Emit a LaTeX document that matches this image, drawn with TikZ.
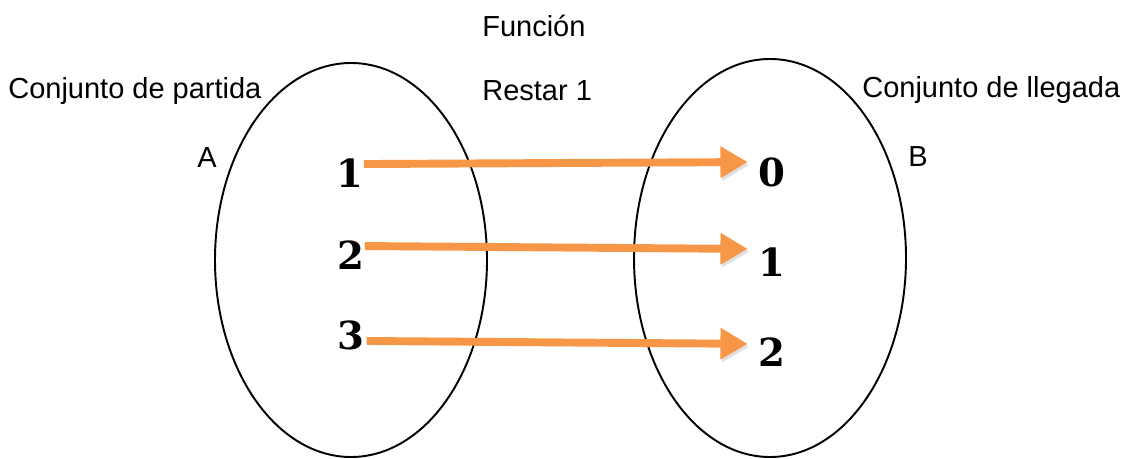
\documentclass[tikz,border=0pt]{standalone}
\usepackage{fontspec}
\usetikzlibrary{arrows.meta}
\newfontfamily\labelfont{Liberation Sans}
\newfontfamily\digitfont{DejaVu Serif}

\begin{document}
\begin{tikzpicture}[x=0.02cm,y=-0.02cm,
  lbl/.style={font=\labelfont\fontsize{16.5}{20}\selectfont, anchor=base west, inner sep=0pt},
  elem/.style={font=\digitfont\bfseries\fontsize{22}{26}\selectfont, inner sep=0pt},
  maparrow/.style={draw={rgb,255:red,247;green,150;blue,70}, line width=4.5pt,
    -{Triangle[length=15.5pt,width=17pt]},
    preaction={draw=black, opacity=.12, transform canvas={shift={(1pt,-1.6pt)}}}}]
\useasboundingbox (0,0) rectangle (1125,459);

% the two sets
\draw[line width=1.1pt] (351,260) ellipse [x radius=136, y radius=197];
\draw[line width=1.1pt] (770,258) ellipse [x radius=136, y radius=199];

\node[lbl] (fun) at (482,37)  {Función};
\node[lbl] (rule) at (482,101) {Restar 1};
\node[lbl] (dom) at (8,99)    {Conjunto de partida};
\node[lbl] (cod) at (862,98)  {Conjunto de llegada};
\node[lbl] (A) at (197,168)   {A};
\node[lbl] (B) at (908,167)   {B};

% elements of A
\node[elem] (a1) at (350,173) {1};
\node[elem] (a2) at (351,255) {2};
\node[elem] (a3) at (351,335) {3};

% elements of B
\node[elem] (b0) at (772,172) {0};
\node[elem] (b1) at (772,262) {1};
\node[elem] (b2) at (772,352) {2};

\draw[maparrow, shorten <=0pt, shorten >=6pt] ([yshift=5.1pt]a1.east) -- ([yshift=5.7pt]b0.west);
\draw[maparrow, shorten <=0pt, shorten >=6pt] ([yshift=5.1pt]a2.east) -- ([yshift=7.4pt]b1.west);
\draw[maparrow, shorten <=1pt, shorten >=6pt] ([yshift=-3.4pt]a3.east) -- ([yshift=4.6pt]b2.west);

\end{tikzpicture}
\end{document}
